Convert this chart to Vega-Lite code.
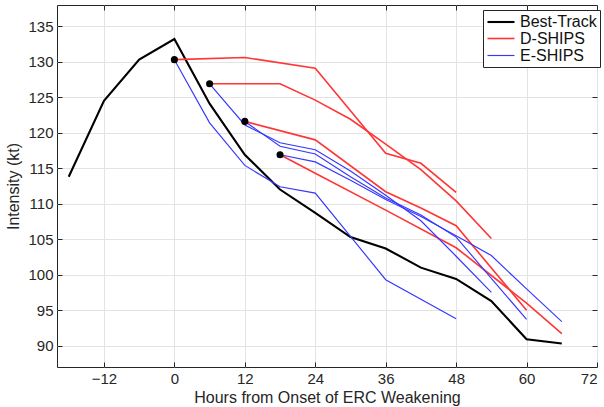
{
  "$schema": "https://vega.github.io/schema/vega-lite/v6.json",
  "width": 540,
  "height": 362,
  "autosize": {"type": "none"},
  "padding": {"left": 57, "top": 5, "right": 7, "bottom": 40},
  "background": "white",
  "config": {
    "view": {"stroke": "#262626", "strokeWidth": 1},
    "font": "Liberation Sans",
    "axis": {
      "domain": false,
      "grid": true,
      "gridColor": "#e3e3e3",
      "gridWidth": 1,
      "tickColor": "#262626",
      "tickSize": -5,
      "labelColor": "#262626",
      "labelFontSize": 15,
      "labelPadding": 9,
      "titleColor": "#262626",
      "titleFontSize": 16,
      "titleFontWeight": "normal"
    },
    "legend": {
      "orient": "none",
      "legendX": 426,
      "legendY": 5,
      "title": null,
      "strokeColor": "#262626",
      "fillColor": "white",
      "padding": 3,
      "cornerRadius": 0,
      "labelFontSize": 16,
      "labelColor": "#111111",
      "labelOffset": 10,
      "rowPadding": 0,
      "symbolType": "M-1.8,0H1.8",
      "symbolSize": 225,
      "symbolOffset": 6
    }
  },
  "datasets": {
    "lines": [
      {"model": "Best-Track", "run": "bt", "hour": -18, "kt": 113.8},
      {"model": "Best-Track", "run": "bt", "hour": -12, "kt": 124.5},
      {"model": "Best-Track", "run": "bt", "hour": -6, "kt": 130.3},
      {"model": "Best-Track", "run": "bt", "hour": 0, "kt": 133.2},
      {"model": "Best-Track", "run": "bt", "hour": 6, "kt": 124.1},
      {"model": "Best-Track", "run": "bt", "hour": 12, "kt": 116.9},
      {"model": "Best-Track", "run": "bt", "hour": 18, "kt": 112.0},
      {"model": "Best-Track", "run": "bt", "hour": 24, "kt": 108.7},
      {"model": "Best-Track", "run": "bt", "hour": 30, "kt": 105.3},
      {"model": "Best-Track", "run": "bt", "hour": 36, "kt": 103.7},
      {"model": "Best-Track", "run": "bt", "hour": 42, "kt": 101.0},
      {"model": "Best-Track", "run": "bt", "hour": 48, "kt": 99.4},
      {"model": "Best-Track", "run": "bt", "hour": 54, "kt": 96.3},
      {"model": "Best-Track", "run": "bt", "hour": 60, "kt": 90.9},
      {"model": "Best-Track", "run": "bt", "hour": 66, "kt": 90.3},

      {"model": "D-SHIPS", "run": "d0", "hour": 0, "kt": 130.3},
      {"model": "D-SHIPS", "run": "d0", "hour": 12, "kt": 130.6},
      {"model": "D-SHIPS", "run": "d0", "hour": 24, "kt": 129.1},
      {"model": "D-SHIPS", "run": "d0", "hour": 30, "kt": 123.1},
      {"model": "D-SHIPS", "run": "d0", "hour": 36, "kt": 117.1},
      {"model": "D-SHIPS", "run": "d0", "hour": 42, "kt": 115.7},
      {"model": "D-SHIPS", "run": "d0", "hour": 48, "kt": 111.6},

      {"model": "D-SHIPS", "run": "d6", "hour": 6, "kt": 126.9},
      {"model": "D-SHIPS", "run": "d6", "hour": 18, "kt": 126.9},
      {"model": "D-SHIPS", "run": "d6", "hour": 24, "kt": 124.6},
      {"model": "D-SHIPS", "run": "d6", "hour": 30, "kt": 121.9},
      {"model": "D-SHIPS", "run": "d6", "hour": 36, "kt": 118.4},
      {"model": "D-SHIPS", "run": "d6", "hour": 42, "kt": 114.8},
      {"model": "D-SHIPS", "run": "d6", "hour": 48, "kt": 110.4},
      {"model": "D-SHIPS", "run": "d6", "hour": 54, "kt": 105.1},

      {"model": "D-SHIPS", "run": "d12", "hour": 12, "kt": 121.6},
      {"model": "D-SHIPS", "run": "d12", "hour": 24, "kt": 119.0},
      {"model": "D-SHIPS", "run": "d12", "hour": 36, "kt": 111.7},
      {"model": "D-SHIPS", "run": "d12", "hour": 42, "kt": 109.4},
      {"model": "D-SHIPS", "run": "d12", "hour": 48, "kt": 106.9},
      {"model": "D-SHIPS", "run": "d12", "hour": 60, "kt": 95.0},

      {"model": "D-SHIPS", "run": "d18", "hour": 18, "kt": 116.9},
      {"model": "D-SHIPS", "run": "d18", "hour": 24, "kt": 114.3},
      {"model": "D-SHIPS", "run": "d18", "hour": 36, "kt": 109.1},
      {"model": "D-SHIPS", "run": "d18", "hour": 48, "kt": 103.8},
      {"model": "D-SHIPS", "run": "d18", "hour": 60, "kt": 96.0},
      {"model": "D-SHIPS", "run": "d18", "hour": 66, "kt": 91.7},

      {"model": "E-SHIPS", "run": "e0", "hour": 0, "kt": 130.3},
      {"model": "E-SHIPS", "run": "e0", "hour": 6, "kt": 121.4},
      {"model": "E-SHIPS", "run": "e0", "hour": 12, "kt": 115.4},
      {"model": "E-SHIPS", "run": "e0", "hour": 18, "kt": 112.4},
      {"model": "E-SHIPS", "run": "e0", "hour": 24, "kt": 111.5},
      {"model": "E-SHIPS", "run": "e0", "hour": 36, "kt": 99.3},
      {"model": "E-SHIPS", "run": "e0", "hour": 48, "kt": 93.8},

      {"model": "E-SHIPS", "run": "e6", "hour": 6, "kt": 126.9},
      {"model": "E-SHIPS", "run": "e6", "hour": 12, "kt": 121.1},
      {"model": "E-SHIPS", "run": "e6", "hour": 18, "kt": 118.6},
      {"model": "E-SHIPS", "run": "e6", "hour": 24, "kt": 117.6},
      {"model": "E-SHIPS", "run": "e6", "hour": 30, "kt": 114.6},
      {"model": "E-SHIPS", "run": "e6", "hour": 36, "kt": 111.2},
      {"model": "E-SHIPS", "run": "e6", "hour": 42, "kt": 107.6},
      {"model": "E-SHIPS", "run": "e6", "hour": 48, "kt": 102.6},
      {"model": "E-SHIPS", "run": "e6", "hour": 54, "kt": 97.5},

      {"model": "E-SHIPS", "run": "e12", "hour": 12, "kt": 121.6},
      {"model": "E-SHIPS", "run": "e12", "hour": 18, "kt": 118.1},
      {"model": "E-SHIPS", "run": "e12", "hour": 24, "kt": 117.0},
      {"model": "E-SHIPS", "run": "e12", "hour": 30, "kt": 113.8},
      {"model": "E-SHIPS", "run": "e12", "hour": 36, "kt": 110.8},
      {"model": "E-SHIPS", "run": "e12", "hour": 42, "kt": 108.4},
      {"model": "E-SHIPS", "run": "e12", "hour": 48, "kt": 105.3},
      {"model": "E-SHIPS", "run": "e12", "hour": 54, "kt": 99.5},
      {"model": "E-SHIPS", "run": "e12", "hour": 60, "kt": 93.7},

      {"model": "E-SHIPS", "run": "e18", "hour": 18, "kt": 116.9},
      {"model": "E-SHIPS", "run": "e18", "hour": 24, "kt": 115.9},
      {"model": "E-SHIPS", "run": "e18", "hour": 30, "kt": 113.3},
      {"model": "E-SHIPS", "run": "e18", "hour": 36, "kt": 110.6},
      {"model": "E-SHIPS", "run": "e18", "hour": 42, "kt": 108.2},
      {"model": "E-SHIPS", "run": "e18", "hour": 48, "kt": 105.5},
      {"model": "E-SHIPS", "run": "e18", "hour": 54, "kt": 102.7},
      {"model": "E-SHIPS", "run": "e18", "hour": 60, "kt": 98.0},
      {"model": "E-SHIPS", "run": "e18", "hour": 66, "kt": 93.4}
    ],
    "dots": [
      {"hour": 0, "kt": 130.3},
      {"hour": 6, "kt": 126.9},
      {"hour": 12, "kt": 121.6},
      {"hour": 18, "kt": 116.9}
    ]
  },
  "layer": [
    {
      "data": {"name": "lines"},
      "mark": {"type": "line", "clip": true},
      "encoding": {
        "x": {
          "field": "hour", "type": "quantitative",
          "scale": {"domain": [-20, 72], "nice": false, "zero": false},
          "axis": {"orient": "bottom", "values": [-12, 0, 12, 24, 36, 48, 60, 72], "title": "Hours from Onset of ERC Weakening", "titlePadding": 3}
        },
        "y": {
          "field": "kt", "type": "quantitative",
          "scale": {"domain": [87, 138], "nice": false, "zero": false},
          "axis": {"orient": "left", "values": [90, 95, 100, 105, 110, 115, 120, 125, 130, 135], "title": "Intensity (kt)", "titlePadding": 6}
        },
        "color": {
          "field": "model", "type": "nominal",
          "scale": {"domain": ["Best-Track", "D-SHIPS", "E-SHIPS"], "range": ["#000000", "#ff3636", "#3636ff"]}
        },
        "strokeWidth": {
          "field": "model", "type": "nominal",
          "scale": {"domain": ["Best-Track", "D-SHIPS", "E-SHIPS"], "range": [2.1, 1.15, 1.15]}
        },
        "detail": {"field": "run"}
      }
    },
    {
      "data": {"name": "dots"},
      "mark": {"type": "point", "filled": true, "color": "black", "size": 50, "opacity": 1},
      "encoding": {
        "x": {
          "field": "hour", "type": "quantitative",
          "axis": {"orient": "top", "values": [-12, 0, 12, 24, 36, 48, 60, 72], "labels": false, "grid": false, "title": null}
        },
        "y": {
          "field": "kt", "type": "quantitative",
          "axis": {"orient": "right", "values": [90, 95, 100, 105, 110, 115, 120, 125, 130, 135], "labels": false, "grid": false, "title": null}
        }
      }
    }
  ]
}
